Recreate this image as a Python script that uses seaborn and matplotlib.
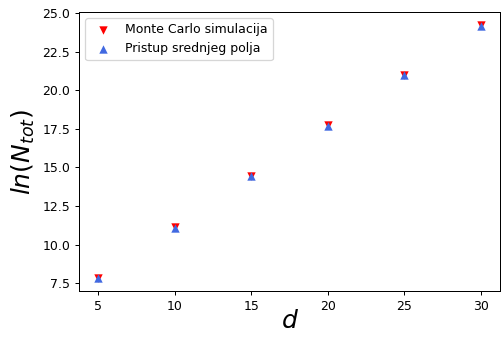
import pandas as pd
import seaborn as sns
import matplotlib.pyplot as plt

d = [5, 10, 15, 20, 25, 30]
ln_mc = [7.86, 11.14, 14.46, 17.73, 21.01, 24.24]
ln_mf = [7.82, 11.10, 14.42, 17.68, 20.96, 24.18]

df = pd.DataFrame({"d": d, "mc": ln_mc, "mf": ln_mf})

dpi = 90
fig = plt.figure(figsize=(501 / dpi, 337 / dpi), dpi=dpi)
ax = fig.add_axes([79 / 501, 1 - 291 / 337, 421 / 501, 279 / 337])

sns.scatterplot(data=df, x="d", y="mc", ax=ax, marker="v", color="red",
                s=45, linewidth=0, label="Monte Carlo simulacija")
sns.scatterplot(data=df, x="d", y="mf", ax=ax, marker="^", color="royalblue",
                s=45, linewidth=0, label="Pristup srednjeg polja")

ax.set_xlabel("$d$", fontsize=20, labelpad=-3)
ax.set_ylabel("$ln(N_{tot})$", fontsize=20)
ax.legend(loc="upper left")

fig.savefig("out.png", dpi=dpi)
